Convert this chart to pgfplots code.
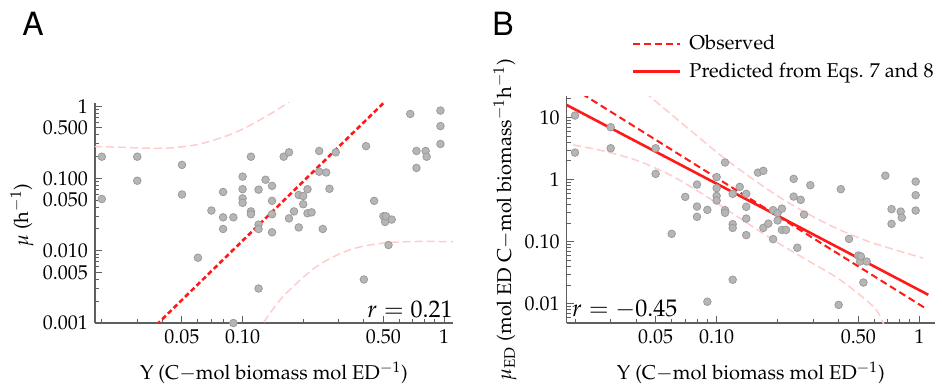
\documentclass[border=0pt]{standalone}
\usepackage[T1]{fontenc}
\usepackage{mathpazo}
\usepackage{pgfplots}
\usepackage{pgfplotstable}
\pgfplotsset{compat=1.18}
\definecolor{ptgray}{RGB}{182,182,182}
\definecolor{ptedge}{RGB}{155,155,155}
\definecolor{myred}{RGB}{255,25,25}
\definecolor{mypink}{RGB}{255,205,205}
\definecolor{axgray}{RGB}{95,95,95}

\pgfplotstableread{
Y mu
0.020 0.20
0.020 0.052
0.030 0.20
0.030 0.093
0.050 0.154
0.050 0.060
0.060 0.0080
0.070 0.036
0.080 0.065
0.080 0.029
0.080 0.020
0.090 0.029
0.090 0.001
0.100 0.106
0.100 0.071
0.100 0.053
0.100 0.046
0.110 0.20
0.110 0.035
0.110 0.032
0.120 0.070
0.120 0.023
0.120 0.020
0.120 0.0030
0.130 0.096
0.140 0.079
0.140 0.049
0.140 0.032
0.140 0.018
0.160 0.20
0.170 0.23
0.170 0.028
0.180 0.035
0.190 0.059
0.190 0.021
0.200 0.057
0.200 0.044
0.210 0.071
0.210 0.033
0.220 0.034
0.240 0.24
0.240 0.124
0.250 0.020
0.260 0.121
0.270 0.072
0.290 0.23
0.400 0.0040
0.410 0.28
0.450 0.049
0.500 0.030
0.510 0.025
0.515 0.030
0.530 0.012
0.550 0.027
0.680 0.78
0.730 0.24
0.730 0.140
0.810 0.24
0.820 0.20
0.960 0.87
0.960 0.53
0.960 0.30
}\dataA

\pgfplotstableread{
Y muED
0.020 10.8
0.020 2.73
0.030 7.0
0.030 3.21
0.050 3.21
0.050 1.24
0.060 0.134
0.070 0.528
0.080 0.834
0.080 0.369
0.080 0.252
0.090 0.326
0.090 0.0108
0.100 1.10
0.100 0.730
0.100 0.548
0.100 0.461
0.110 1.89
0.110 0.323
0.110 0.292
0.120 0.591
0.120 0.192
0.120 0.167
0.120 0.0244
0.130 0.766
0.140 0.591
0.140 0.365
0.140 0.236
0.140 0.128
0.160 1.30
0.170 1.39
0.170 0.167
0.180 0.196
0.190 0.323
0.190 0.110
0.200 0.289
0.200 0.220
0.210 0.342
0.210 0.155
0.220 0.155
0.240 1.03
0.240 0.534
0.250 0.080
0.260 0.473
0.270 0.274
0.290 0.815
0.400 0.0096
0.410 0.703
0.450 0.111
0.500 0.060
0.510 0.048
0.515 0.058
0.530 0.022
0.550 0.048
0.680 1.16
0.730 0.335
0.730 0.194
0.810 0.306
0.820 0.245
0.960 0.932
0.960 0.563
0.960 0.318
}\dataB

\tikzset{
  mybandline/.style={color=mypink, line width=0.75pt, dash pattern=on 4pt off 2pt, smooth},
  mydotmark/.style={mark=*, mark size=1.9pt, mark options={fill=ptgray, draw=ptedge, line width=0.4pt}},
}

\begin{document}
\begin{tikzpicture}
\useasboundingbox (0,0) rectangle (471pt,193.5pt);

\node[font=\fontfamily{phv}\selectfont\fontsize{16}{18}\selectfont] at (16.5pt,181.5pt) {A};
\node[font=\fontfamily{phv}\selectfont\fontsize{16}{18}\selectfont] at (251.5pt,181.5pt) {B};

% Panel A
\begin{axis}[
  scale only axis,
  xmode=log, ymode=log,
  axis x line*=bottom, axis y line*=left,
  axis line style={axgray, line width=0.6pt},
  tick style={axgray, line width=0.5pt},
  tick align=inside,
  major tick length=3.5pt,
  minor tick length=2pt,
  tick label style={font=\fontsize{10}{12}\selectfont},
  label style={font=\fontsize{10}{12}\selectfont},
  xtick={0.05,0.1,0.5,1},
  xticklabels={0.05,0.10,0.50,1},
  minor xtick={0.02,0.03,0.04,0.06,0.07,0.08,0.09,0.2,0.3,0.4,0.6,0.7,0.8,0.9},
  xlabel={Y (C$-$mol biomass mol ED$^{-1}$)},
  xlabel style={at={(axis description cs:0.5,0)}, anchor=center, yshift=-25pt},
  at={(47.5pt,32pt)}, anchor=south west,
  width=179pt, height=110pt,
  xmin=0.0185, xmax=1.108, ymin=0.001, ymax=1.107,
  ytick={0.001,0.005,0.01,0.05,0.1,0.5,1},
  yticklabels={0.001,0.005,0.010,0.050,0.100,0.500,1},
  minor ytick={0.002,0.003,0.004,0.006,0.007,0.008,0.009,0.02,0.03,0.04,0.06,0.07,0.08,0.09,0.2,0.3,0.4,0.6,0.7,0.8,0.9},
  ylabel={$\mu$ (h$^{-1}$)},
  ylabel style={at={(axis description cs:-0.204,0.49)}, anchor=center},
]
\addplot[mybandline] coordinates {(0.0183,0.277) (0.025,0.270) (0.035,0.262) (0.045,0.266) (0.0614,0.30) (0.0898,0.42) (0.1219,0.645) (0.162,1.04) (0.18,1.35)};
\addplot[mybandline] coordinates {(0.117,0.00076) (0.1265,0.001) (0.159,0.00233) (0.233,0.00605) (0.34,0.0103) (0.498,0.01276) (0.729,0.01342) (1.03,0.0134) (1.11,0.0134)};
\addplot[only marks, mydotmark] table[x=Y, y=mu] {\dataA};
\addplot[color=myred, line width=1.3pt, dash pattern=on 2.5pt off 1.5pt] coordinates {(0.035,0.00079) (0.508,1.15)};
\node[anchor=east, inner sep=0pt, font=\fontsize{12}{14}\selectfont] at (rel axis cs:1,0) [yshift=7pt] {$r = 0.21$};
\end{axis}

% Panel B
\begin{axis}[
  scale only axis,
  xmode=log, ymode=log,
  axis x line*=bottom, axis y line*=left,
  axis line style={axgray, line width=0.6pt},
  tick style={axgray, line width=0.5pt},
  tick align=inside,
  major tick length=3.5pt,
  minor tick length=2pt,
  tick label style={font=\fontsize{10}{12}\selectfont},
  label style={font=\fontsize{10}{12}\selectfont},
  xtick={0.05,0.1,0.5,1},
  xticklabels={0.05,0.10,0.50,1},
  minor xtick={0.02,0.03,0.04,0.06,0.07,0.08,0.09,0.2,0.3,0.4,0.6,0.7,0.8,0.9},
  xlabel={Y (C$-$mol biomass mol ED$^{-1}$)},
  xlabel style={at={(axis description cs:0.5,0)}, anchor=center, yshift=-25pt},
  at={(283.35pt,32pt)}, anchor=south west,
  width=184.15pt, height=113.5pt,
  xmin=0.0182, xmax=1.196, ymin=0.0049, ymax=22.3,
  ytick={0.01,0.1,1,10},
  yticklabels={0.01,0.10,1,10},
  minor ytick={0.005,0.006,0.007,0.008,0.009,0.02,0.03,0.04,0.05,0.06,0.07,0.08,0.09,0.2,0.3,0.4,0.5,0.6,0.7,0.8,0.9,2,3,4,5,6,7,8,9,20},
  ylabel={$\mu_{\mathrm{ED}}$ (mol ED C$-$mol biomass$^{-1}$h$^{-1}$)},
  ylabel style={at={(axis description cs:-0.1675,0.455)}, anchor=center},
  legend style={at={(axis description cs:0.177,1.28)}, anchor=north west, draw=none, fill=none,
    inner sep=0pt, outer sep=0pt, row sep=2pt, font=\fontsize{10}{12}\selectfont,
    nodes={inner sep=1.5pt}},
  legend cell align=left,
  legend image code/.code={\draw[#1] (0pt,0pt) -- (23.5pt,0pt); \path (26pt,0pt);},
]
\addplot[mybandline, forget plot] coordinates {(0.0398,34) (0.0469,21.8) (0.0738,6.34) (0.112,2.08) (0.1903,0.606) (0.278,0.289) (0.406,0.155) (0.593,0.095) (1.046,0.0544)};
\addplot[mybandline, forget plot] coordinates {(0.0196,3.63) (0.0286,2.83) (0.0418,1.96) (0.0611,1.12) (0.0893,0.534) (0.130,0.240) (0.190,0.107) (0.278,0.0511) (0.406,0.0244) (0.593,0.00905) (0.664,0.00489) (0.70,0.0035)};
\addplot[only marks, mydotmark, forget plot] table[x=Y, y=muED] {\dataB};
\addplot[color=myred, line width=1pt, dash pattern=on 3.5pt off 2pt] coordinates {(0.0195,30) (1.088,0.00822)};
\addlegendentry{Observed}
\addplot[color=myred, line width=1.3pt] coordinates {(0.01818,16.0) (1.108,0.01396)};
\addlegendentry{Predicted from Eqs. 7 and 8}
\node[anchor=west, inner sep=0pt, font=\fontsize{12}{14}\selectfont] at (rel axis cs:0,0) [xshift=2.5pt, yshift=7pt] {$r = -0.45$};
\end{axis}
\end{tikzpicture}
\end{document}
